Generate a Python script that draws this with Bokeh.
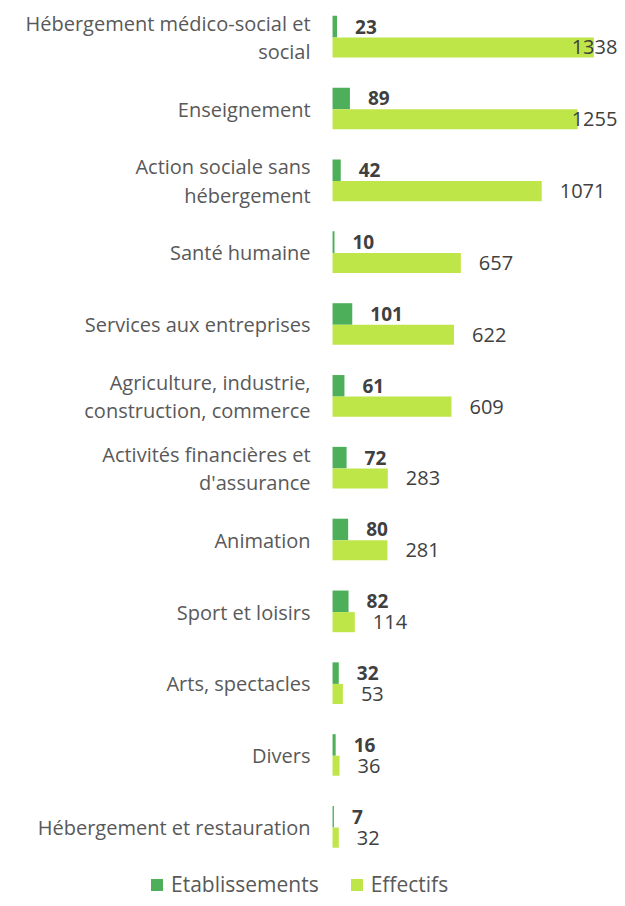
from bokeh.plotting import figure
from bokeh.layouts import column
from bokeh.models import FactorRange, Range1d, Legend, LegendItem, ColumnDataSource
from bokeh.transform import dodge
from bokeh.core.properties import value
from bokeh.embed import file_html
from bokeh.resources import INLINE

categories = ["Hébergement médico-social et\nsocial", "Enseignement",
              "Action sociale sans\nhébergement", "Santé humaine",
              "Services aux entreprises", "Agriculture, industrie,\nconstruction, commerce",
              "Activités financières et\nd'assurance", "Animation", "Sport et loisirs",
              "Arts, spectacles", "Divers", "Hébergement et restauration"]
etablissements = [23, 89, 42, 10, 101, 61, 72, 80, 82, 32, 16, 7]
effectifs = [1338, 1255, 1071, 657, 622, 609, 283, 281, 114, 53, 36, 32]
series_names = ["Etablissements", "Effectifs"]

DARK = "#4EAF5B"
LIGHT = "#BEE649"
TXT = "#595959"
VAL = "#404040"
FONT = "Open Sans"

label_cap = 1132
src = ColumnDataSource(dict(
    cat=categories,
    zero=[0] * len(categories),
    etab=etablissements,
    eff=effectifs,
    etab_lbl=[str(v) for v in etablissements],
    eff_lbl=[str(v) for v in effectifs],
    etab_x=[min(v, label_cap) for v in etablissements],
    eff_x=[min(v, label_cap) for v in effectifs],
))

p = figure(width=617, height=866, output_backend="svg", toolbar_location=None,
           y_range=FactorRange(factors=categories[::-1], range_padding=0),
           x_range=Range1d(-1700, 1459),
           min_border_left=0, min_border_right=0, min_border_top=1, min_border_bottom=3)

r1 = p.hbar(y=dodge('cat', 0.15, range=p.y_range), left=0, right='etab', height=0.3,
            source=src, fill_color=DARK, line_color=None)
r2 = p.hbar(y=dodge('cat', -0.14, range=p.y_range), left=0, right='eff', height=0.28,
            source=src, fill_color=LIGHT, line_color=None)

# category labels
p.text(x='zero', y='cat', text='cat', source=src, x_offset=-22,
       text_baseline='middle', text_align='right', text_line_height=1.05,
       text_font=value(FONT), text_font_size='20px', text_color=TXT)

p.text(x='etab_x', y=dodge('cat', 0.15, range=p.y_range), text='etab_lbl', source=src,
       x_offset=18, text_baseline='middle', text_align='left',
       text_font=value(FONT), text_font_style='bold', text_font_size='19px', text_color=VAL)
p.text(x='eff_x', y=dodge('cat', -0.14, range=p.y_range), text='eff_lbl', source=src,
       x_offset=18, text_baseline='middle', text_align='left',
       text_font=value(FONT), text_font_size='20px', text_color=VAL)

p.xaxis.visible = False
p.yaxis.visible = False
p.xgrid.visible = False
p.ygrid.visible = False
p.outline_line_color = None

# legend strip below the chart (zero-size carrier bars give the legend its swatches)
pl = figure(width=617, height=32, output_backend="svg", toolbar_location=None,
            x_range=Range1d(0, 1), y_range=Range1d(0, 1),
            min_border_left=0, min_border_right=0, min_border_top=0, min_border_bottom=0)
pl.xaxis.visible = False
pl.yaxis.visible = False
pl.xgrid.visible = False
pl.ygrid.visible = False
pl.outline_line_color = None
l1 = pl.hbar(y='zero', left='zero', right='zero', height=0, source=src,
             fill_color=DARK, line_color=None)
l2 = pl.hbar(y='zero', left='zero', right='zero', height=0, source=src,
             fill_color=LIGHT, line_color=None)
legend = Legend(items=[LegendItem(label=series_names[0], renderers=[l1]),
                       LegendItem(label=series_names[1], renderers=[l2])],
                orientation="horizontal", location=(149, 0),
                label_text_font=FONT, label_text_font_size="21px", label_text_color=TXT,
                glyph_width=15, glyph_height=15, label_standoff=7, spacing=30,
                border_line_color=None, background_fill_alpha=0, padding=0, margin=0)
pl.add_layout(legend, "center")

layout = column(p, pl, spacing=0)
open("out.html", "w").write(file_html(layout, INLINE))
